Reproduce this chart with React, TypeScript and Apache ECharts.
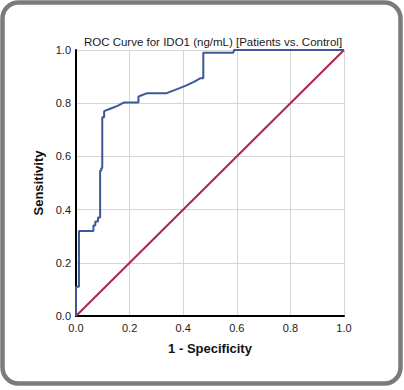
import React, { useEffect, useRef } from "react";
import * as echarts from "echarts";

const titleText = "ROC Curve for IDO1 (ng/mL) [Patients vs. Control]";
const xAxisName = "1 - Specificity";
const yAxisName = "Sensitivity";

// ROC curve points: [1 - specificity, sensitivity]
const rocFpr = [0, 0, 0.011, 0.011, 0.065, 0.065, 0.072, 0.072, 0.082, 0.082, 0.09, 0.09, 0.094, 0.094, 0.098, 0.098, 0.105, 0.105, 0.13, 0.155, 0.18, 0.233, 0.233, 0.245, 0.264, 0.336, 0.37, 0.41, 0.44, 0.465, 0.475, 0.475, 0.587, 0.59, 1.0];
const rocTpr = [0, 0.11, 0.11, 0.32, 0.32, 0.34, 0.34, 0.355, 0.355, 0.37, 0.37, 0.546, 0.546, 0.555, 0.555, 0.747, 0.747, 0.77, 0.78, 0.79, 0.803, 0.803, 0.825, 0.83, 0.837, 0.837, 0.85, 0.866, 0.88, 0.894, 0.894, 0.99, 0.99, 1.0, 1.0];

// Reference line
const refFpr = [0, 1];
const refTpr = [0, 1];

const tickInterval = 0.2;

export default function App() {
  const ref = useRef<HTMLDivElement>(null);
  useEffect(() => {
    document.body.style.margin = "0";
    const chart = echarts.init(ref.current!, null, { renderer: "svg" });
    const font = "'Liberation Sans', Arial, sans-serif";
    const axisCommon = {
      type: "value" as const,
      min: 0,
      max: 1,
      interval: tickInterval,
      nameLocation: "middle" as const,
      nameTextStyle: { fontFamily: font, fontSize: 13, fontWeight: "bold" as const, color: "#111" },
      axisLine: { show: true, onZero: false, lineStyle: { color: "#000", width: 2 } },
      axisTick: { show: false },
      splitLine: { show: true, lineStyle: { color: "#d6d6d6", width: 1 } },
      axisLabel: {
        fontFamily: font,
        fontSize: 11,
        color: "#1a1a1a",
        formatter: (v: number) => v.toFixed(1),
      },
    };
    chart.setOption({
      animation: false,
      backgroundColor: "#fff",
      title: {
        text: titleText,
        left: 208,
        top: 31,
        textAlign: "center",
        textStyle: { fontFamily: font, fontSize: 11.5, fontWeight: "normal", color: "#1a1a1a" },
      },
      graphic: [
        {
          type: "rect",
          shape: { x: 2.5, y: 2.5, width: 398, height: 381, r: 16 },
          style: { fill: "none", stroke: "#7b7b7b", lineWidth: 4.5 },
          silent: true,
          z: 100,
        },
      ],
      grid: { left: 76, top: 50, width: 268, height: 266 },
      xAxis: { ...axisCommon, name: xAxisName, nameGap: 26, axisLabel: { ...axisCommon.axisLabel, margin: 6 } },
      yAxis: { ...axisCommon, name: yAxisName, nameGap: 27, axisLabel: { ...axisCommon.axisLabel, margin: 5 } },
      series: [
        {
          type: "line",
          data: refFpr.map((x, i) => [x, refTpr[i]]),
          showSymbol: false,
          lineStyle: { color: "#b0234b", width: 2 },
          z: 2,
        },
        {
          type: "line",
          data: rocFpr.map((x, i) => [x, rocTpr[i]]),
          showSymbol: false,
          lineStyle: { color: "#3b5897", width: 2 },
          z: 3,
        },
      ],
    });
    return () => chart.dispose();
  }, []);
  return <div ref={ref} style={{ width: 404, height: 390 }} />;
}
